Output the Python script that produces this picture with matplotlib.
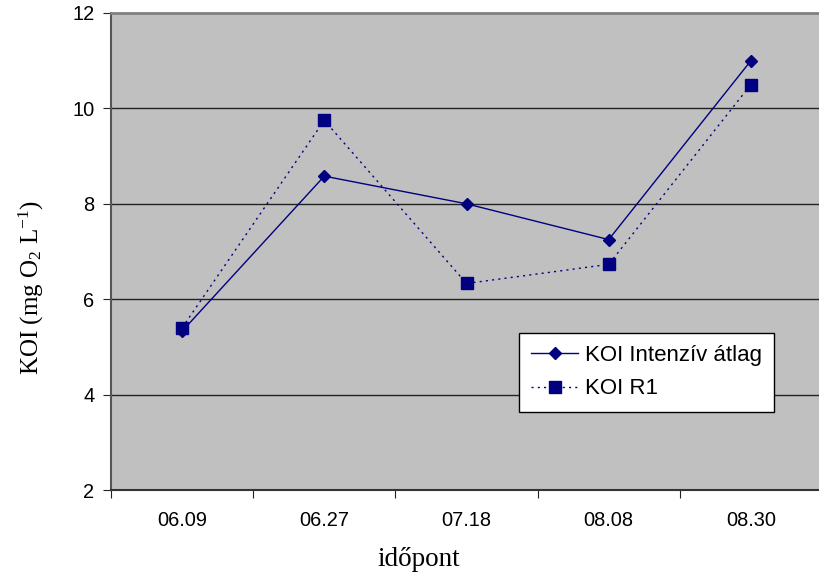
import matplotlib
matplotlib.use("Agg")
import matplotlib.pyplot as plt

plt.rcParams["mathtext.fontset"] = "custom"
plt.rcParams["mathtext.rm"] = "Liberation Serif"
plt.rcParams["mathtext.it"] = "Liberation Serif:italic"

dates = ["06.09", "06.27", "07.18", "08.08", "08.30"]
koi_intenziv = [5.33, 8.58, 8.0, 7.25, 11.0]
koi_r1 = [5.40, 9.75, 6.33, 6.73, 10.5]
y_ticks = [2, 4, 6, 8, 10, 12]

W, H = 819, 579
fig = plt.figure(figsize=(W / 100, H / 100), dpi=100)
ax = fig.add_axes([111 / W, (H - 490) / H, 711 / W, 477 / H])
ax.set_facecolor("#C0C0C0")

x = list(range(len(dates)))
navy = "#000080"
ax.plot(x, koi_intenziv, color=navy, lw=1.0, marker="D", ms=6.5,
        mfc=navy, mec=navy, label="KOI Intenzív átlag", zorder=3)
ax.plot(x, koi_r1, color=navy, lw=1.0, ls=(0, (1.5, 3)), marker="s", ms=8,
        mfc=navy, mec=navy, label="KOI R1", zorder=3)

ax.set_xlim(-0.5, len(dates) - 0.5)
ax.set_ylim(2, 12)
ax.set_yticks(y_ticks)
ax.set_yticklabels([str(t) for t in y_ticks], fontfamily="Liberation Sans", fontsize=14.4)
ax.set_xticks([i + 0.5 for i in range(-1, len(dates))], minor=False)
ax.set_xticklabels([])
ax.set_xticks(x, minor=True)
ax.set_xticklabels(dates, minor=True, fontfamily="Liberation Sans", fontsize=14.4)
ax.tick_params(axis="x", which="minor", length=0, pad=15)
ax.tick_params(axis="x", which="major", length=6, direction="out", color="#222222")
ax.tick_params(axis="y", length=6, direction="out", color="#222222", pad=6)

for yv in y_ticks[1:-1]:
    ax.axhline(yv, color="#222222", lw=1.0, zorder=1)

ax.spines["top"].set_color("#808080")
ax.spines["top"].set_linewidth(2)
ax.spines["left"].set_color("#555555")
ax.spines["left"].set_linewidth(1.5)
ax.spines["bottom"].set_color("#333333")
ax.spines["bottom"].set_linewidth(1.5)
ax.spines["right"].set_visible(False)

# Axis titles are centred on the whole figure
fig.text(31 / W, (H - 287) / H, r"KOI (mg O$_\mathregular{2}$ L$^\mathregular{-1}$)",
         rotation=90, ha="center", va="center",
         fontfamily="Liberation Serif", fontsize=18)
fig.text(419 / W, (H - 566) / H, "időpont", ha="center", va="baseline",
         fontfamily="Liberation Serif", fontsize=19.5)

leg = ax.legend(loc="upper left", bbox_to_anchor=((519 - 111) / 711, (490 - 333) / 477),
                borderaxespad=0,
                prop={"family": "Liberation Sans", "size": 16}, frameon=True,
                fancybox=False, edgecolor="black", facecolor="white", framealpha=1,
                handlelength=2.1, borderpad=0.55, labelspacing=0.55, handletextpad=0.3)
leg.get_frame().set_linewidth(1.0)

fig.savefig("out.png", dpi=100)
